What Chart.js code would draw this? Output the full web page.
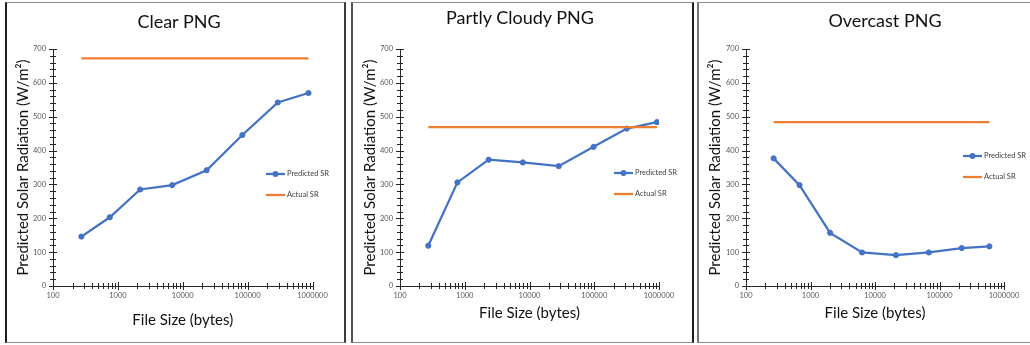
<!DOCTYPE html>
<html><head><meta charset="utf-8">
<script src="https://cdn.jsdelivr.net/npm/chart.js@4/dist/chart.umd.min.js"></script>
<style>
body{margin:0;width:1030px;height:345px;background:#fff;position:relative;overflow:hidden;font-family:Lato,sans-serif}
.panel{position:absolute;box-sizing:border-box;top:2px;height:341px;border-top:1px solid #8c8c8c;border-bottom:1px solid #8c8c8c}
.ttl{position:absolute;transform:translate(-50%,-50%);font-size:18px;color:#111;white-space:nowrap;z-index:2}
canvas{position:absolute;z-index:1}
</style></head><body>
<div class="panel" style="left:5px;width:341px;border-left:2px solid #1e1e1e;border-right:2px solid #3a3a3a"></div>
<div class="panel" style="left:351px;width:343px;border-left:2px solid #555;border-right:2px solid #1e1e1e"></div>
<div class="panel" style="left:697px;width:340px;border-left:2px solid #777"></div>
<div class="ttl" id="t1" style="left:179px;top:21px"></div>
<div class="ttl" id="t2" style="left:520px;top:17px"></div>
<div class="ttl" id="t3" style="left:885px;top:20px"></div>
<canvas id="c1" width="336" height="338" style="left:7px;top:3px"></canvas>
<canvas id="c2" width="338" height="338" style="left:353px;top:3px"></canvas>
<canvas id="c3" width="331" height="338" style="left:699px;top:3px"></canvas>
<script>
// ---- data ----
const panelTitles = ["Clear PNG", "Partly Cloudy PNG", "Overcast PNG"];
const xAxisTitle = "File Size (bytes)";
const yAxisTitle = "Predicted Solar Radiation (W/m\u00B2)";
const seriesNames = ["Predicted SR", "Actual SR"];

const clearSize = [274, 750, 2206, 6885, 23350, 82900, 291600, 867000];
const clearPredicted = [146, 203, 285, 298, 342, 446, 542, 570];
const clearActual = [672, 672, 672, 672, 672, 672, 672, 672];

const cloudySize = [273, 771, 2339, 7890, 28270, 97700, 318000, 931000];
const cloudyPredicted = [119, 306, 373, 365, 354, 411, 465, 484];
const cloudyActual = [469, 469, 469, 469, 469, 469, 469, 469];

const overcastSize = [268, 676, 2014, 6295, 21130, 68400, 221300, 593000];
const overcastPredicted = [377, 298, 157, 99, 91, 99, 112, 117];
const overcastActual = [484, 484, 484, 484, 484, 484, 484, 484];

const xMajorTicks = [100, 1000, 10000, 100000, 1000000];
const xMinorMultipliers = [2, 3, 4, 5, 6, 7, 8, 9];
const yMajorTicks = [0, 100, 200, 300, 400, 500, 600, 700];

// ---- styles ----
const BLUE = '#4472C4', ORANGE = '#ED7D31', AXIS = '#262626', TICKTXT = '#595959';
const FONT = 'Lato, "Open Sans", sans-serif';

const xTickValues = [];
xMajorTicks.forEach((v, i) => {
  xTickValues.push(v);
  if (i < xMajorTicks.length - 1) xMinorMultipliers.forEach(m => xTickValues.push(v * m));
});

const crossTicks = {
  id: 'crossTicks',
  beforeDatasetsDraw(chart) {
    const ctx = chart.ctx, xs = chart.scales.x, ys = chart.scales.y;
    ctx.save();
    ctx.strokeStyle = AXIS; ctx.lineWidth = 1;
    xs.ticks.forEach(t => {
      const px = Math.round(xs.getPixelForValue(t.value)) + 0.5;
      const L = xMajorTicks.includes(t.value) ? 4 : 3;
      ctx.beginPath(); ctx.moveTo(px, xs.top - L); ctx.lineTo(px, xs.top + L); ctx.stroke();
    });
    ys.ticks.forEach(t => {
      const py = Math.round(ys.getPixelForValue(t.value)) + 0.5;
      const L = yMajorTicks.includes(t.value) ? 4 : 3;
      ctx.beginPath(); ctx.moveTo(ys.right - L, py); ctx.lineTo(ys.right + L, py); ctx.stroke();
    });
    ctx.restore();
  }
};

const innerLegend = {
  id: 'innerLegend',
  afterDraw(chart, args, opts) {
    const ctx = chart.ctx;
    ctx.save();
    ctx.font = '7.5px ' + FONT;
    ctx.textBaseline = 'middle';
    const sets = opts.sequence.map(i => chart.data.datasets[i]);
    sets.forEach((ds, k) => {
      const y = opts.y + k * opts.gap;
      ctx.strokeStyle = ds.borderColor; ctx.lineWidth = 2.25;
      ctx.beginPath(); ctx.moveTo(opts.x, y); ctx.lineTo(opts.x + opts.len, y); ctx.stroke();
      if (ds.pointRadius > 0) {
        ctx.fillStyle = ds.borderColor;
        ctx.beginPath(); ctx.arc(opts.x + opts.len / 2, y, 3, 0, Math.PI * 2); ctx.fill();
      }
      ctx.fillStyle = '#404040';
      ctx.fillText(ds.label, opts.x + opts.len + 2, y);
    });
    ctx.restore();
  }
};

function makeChart(id, sizes, predicted, actual, lay) {
  const toPts = vals => sizes.map((s, i) => ({x: s, y: vals[i]}));
  return new Chart(document.getElementById(id), {
    type: 'line',
    data: {
      datasets: [
        {label: seriesNames[0], data: toPts(predicted), borderColor: BLUE, backgroundColor: BLUE,
         borderWidth: 2.25, pointRadius: 2.6, pointBorderWidth: 1, pointHoverRadius: 2.6, tension: 0, order: 1},
        {label: seriesNames[1], data: toPts(actual), borderColor: ORANGE, backgroundColor: ORANGE,
         borderWidth: 2.25, pointRadius: 0, tension: 0, order: 0}
      ]
    },
    options: {
      responsive: false, animation: false, devicePixelRatio: 1,
      layout: {padding: {left: 0, top: 46, right: lay.right, bottom: 0}},
      plugins: {legend: {display: false}, tooltip: {enabled: false},
        innerLegend: {x: lay.lx, y: lay.ly, gap: 21, len: 19, sequence: [0, 1]}},
      scales: {
        x: {
          type: 'logarithmic', min: 100, max: 1000000,
          afterBuildTicks: s => { s.ticks = xTickValues.map(v => ({value: v})); },
          afterFit: s => { s.height = 55; },
          grid: {display: true, drawOnChartArea: false, drawTicks: false},
          border: {color: AXIS, width: 1},
          ticks: {autoSkip: false, maxRotation: 0, padding: 5, color: TICKTXT,
            font: {family: FONT, size: 7.5},
            callback: v => xMajorTicks.includes(v) ? String(v) : ''},
          title: {display: true, text: xAxisTitle, color: '#111',
            font: {family: FONT, size: 15}, padding: {top: 0, bottom: lay.xtb}}
        },
        y: {
          min: 0, max: 700,
          afterBuildTicks: s => {
            const t = [];
            for (let i = 0; i < yMajorTicks.length; i++) {
              t.push({value: yMajorTicks[i]});
              if (i < yMajorTicks.length - 1) for (let k = 1; k < 5; k++) t.push({value: yMajorTicks[i] + k * (yMajorTicks[i + 1] - yMajorTicks[i]) / 5});
            }
            s.ticks = t;
          },
          afterFit: s => { s.width = lay.yw; },
          grid: {display: true, drawOnChartArea: false, drawTicks: false},
          border: {color: AXIS, width: 1},
          ticks: {autoSkip: false, padding: 7, color: TICKTXT, font: {family: FONT, size: 7.5},
            callback: v => yMajorTicks.includes(v) ? String(v) : ''},
          title: {display: true, text: yAxisTitle, color: '#111',
            font: {family: FONT, size: 15}, padding: {top: lay.ytp, bottom: 0}}
        }
      }
    },
    plugins: [crossTicks, innerLegend]
  });
}

document.getElementById('t1').textContent = panelTitles[0];
document.getElementById('t2').textContent = panelTitles[1];
document.getElementById('t3').textContent = panelTitles[2];

makeChart('c1', clearSize, clearPredicted, clearActual, {right: 30.5, yw: 46, ytp: 7, xtb: 12, lx: 259, ly: 171});
makeChart('c2', cloudySize, cloudyPredicted, cloudyActual, {right: 32, yw: 47, ytp: 8, xtb: 19, lx: 261, ly: 170});
makeChart('c3', overcastSize, overcastPredicted, overcastActual, {right: 26, yw: 47, ytp: 7, xtb: 19, lx: 264, ly: 153});
</script>
</body></html>
